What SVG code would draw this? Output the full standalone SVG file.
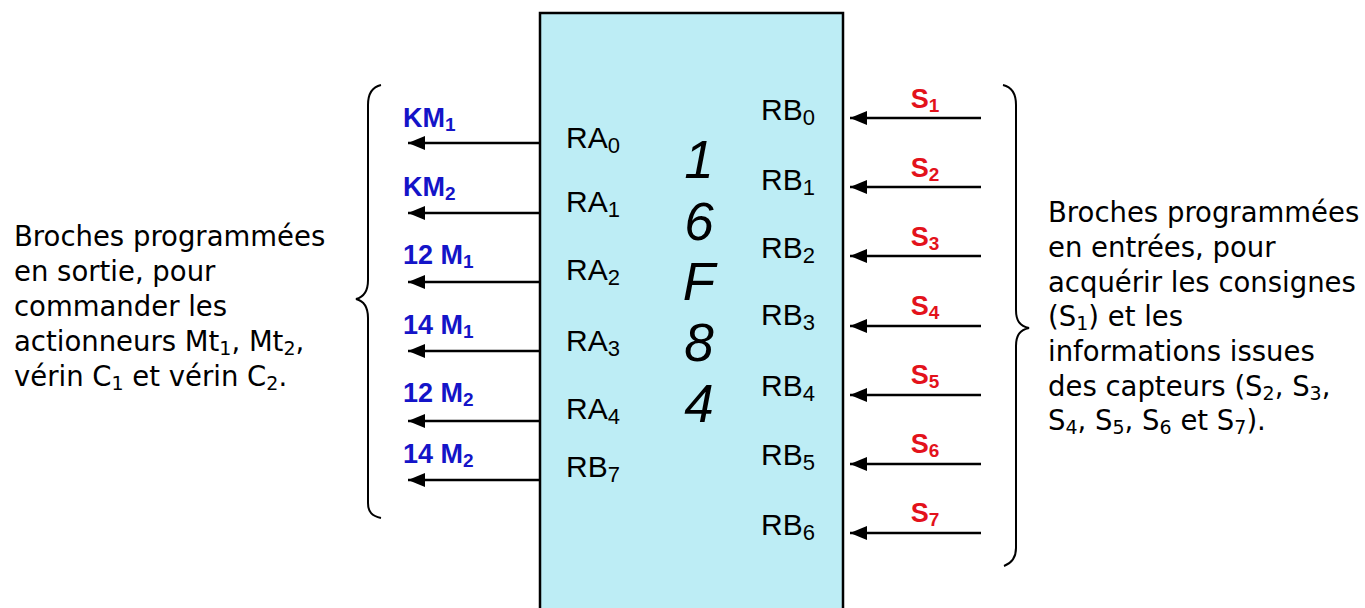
<svg xmlns="http://www.w3.org/2000/svg" width="1365" height="608" viewBox="0 0 1365 608">
<style>
.box{fill:#bdedf5;stroke:#000;stroke-width:2.5}
.pin{font-family:"Liberation Sans",Arial,sans-serif;font-size:30px;fill:#000}
.big{font-family:"Liberation Sans",Arial,sans-serif;font-size:53px;font-style:italic;fill:#000;text-anchor:middle}
.out{font-family:"Liberation Sans",Arial,sans-serif;font-weight:700;font-size:27px;fill:#1414c8}
.in{font-family:"Liberation Sans",Arial,sans-serif;font-weight:700;font-size:27px;fill:#e3121b;text-anchor:middle}
.desc{font-family:"DejaVu Sans",Verdana,sans-serif;font-size:27.5px;fill:#000}
.wire{stroke:#000;stroke-width:2.5;fill:none}
.brace{stroke:#000;stroke-width:2;fill:none}
</style>
<defs>
<marker id="ah" viewBox="0 0 17 14" refX="17" refY="7" markerWidth="17" markerHeight="14" markerUnits="userSpaceOnUse" orient="auto">
<path d="M0,0 L17,7 L0,14 z" fill="#000"/>
</marker>
</defs>
<rect width="1365" height="608" fill="#fff"/>

<g id="pic">
<rect class="box" x="540" y="13" width="303" height="620"/>
<text class="pin" x="566" y="148">RA<tspan font-size="22" dy="5">0</tspan></text>
<text class="pin" x="566" y="212">RA<tspan font-size="22" dy="5">1</tspan></text>
<text class="pin" x="566" y="280">RA<tspan font-size="22" dy="5">2</tspan></text>
<text class="pin" x="566" y="351">RA<tspan font-size="22" dy="5">3</tspan></text>
<text class="pin" x="566" y="419">RA<tspan font-size="22" dy="5">4</tspan></text>
<text class="pin" x="566" y="477">RB<tspan font-size="22" dy="5">7</tspan></text>
<text class="pin" x="761" y="120">RB<tspan font-size="22" dy="5">0</tspan></text>
<text class="pin" x="761" y="190">RB<tspan font-size="22" dy="5">1</tspan></text>
<text class="pin" x="761" y="258">RB<tspan font-size="22" dy="5">2</tspan></text>
<text class="pin" x="761" y="325">RB<tspan font-size="22" dy="5">3</tspan></text>
<text class="pin" x="761" y="396">RB<tspan font-size="22" dy="5">4</tspan></text>
<text class="pin" x="761" y="465">RB<tspan font-size="22" dy="5">5</tspan></text>
<text class="pin" x="761" y="535">RB<tspan font-size="22" dy="5">6</tspan></text>
<text class="big" x="699" y="178">1</text>
<text class="big" x="699" y="240">6</text>
<text class="big" x="699" y="300">F</text>
<text class="big" x="699" y="361">8</text>
<text class="big" x="699" y="422">4</text>
</g>

<g id="connectors">
<line class="wire" x1="540" y1="143" x2="408" y2="143" marker-end="url(#ah)"/>
<line class="wire" x1="540" y1="213" x2="408" y2="213" marker-end="url(#ah)"/>
<line class="wire" x1="540" y1="282" x2="408" y2="282" marker-end="url(#ah)"/>
<line class="wire" x1="540" y1="351" x2="408" y2="351" marker-end="url(#ah)"/>
<line class="wire" x1="540" y1="421" x2="408" y2="421" marker-end="url(#ah)"/>
<line class="wire" x1="540" y1="480" x2="408" y2="480" marker-end="url(#ah)"/>
<line class="wire" x1="981" y1="118" x2="850" y2="118" marker-end="url(#ah)"/>
<line class="wire" x1="981" y1="187" x2="850" y2="187" marker-end="url(#ah)"/>
<line class="wire" x1="981" y1="256" x2="850" y2="256" marker-end="url(#ah)"/>
<line class="wire" x1="981" y1="326" x2="850" y2="326" marker-end="url(#ah)"/>
<line class="wire" x1="981" y1="395" x2="850" y2="395" marker-end="url(#ah)"/>
<line class="wire" x1="981" y1="464" x2="850" y2="464" marker-end="url(#ah)"/>
<line class="wire" x1="981" y1="533" x2="850" y2="533" marker-end="url(#ah)"/>
</g>

<g id="outputs">
<text class="out" x="403" y="127">KM<tspan font-size="19" dy="4">1</tspan></text>
<text class="out" x="403" y="196">KM<tspan font-size="19" dy="4">2</tspan></text>
<text class="out" x="403" y="264">12 M<tspan font-size="19" dy="4">1</tspan></text>
<text class="out" x="403" y="334">14 M<tspan font-size="19" dy="4">1</tspan></text>
<text class="out" x="403" y="402">12 M<tspan font-size="19" dy="4">2</tspan></text>
<text class="out" x="403" y="463">14 M<tspan font-size="19" dy="4">2</tspan></text>
</g>

<g id="inputs">
<text class="in" x="925" y="108">S<tspan font-size="19" dy="4">1</tspan></text>
<text class="in" x="925" y="177">S<tspan font-size="19" dy="4">2</tspan></text>
<text class="in" x="925" y="246">S<tspan font-size="19" dy="4">3</tspan></text>
<text class="in" x="925" y="315">S<tspan font-size="19" dy="4">4</tspan></text>
<text class="in" x="925" y="384">S<tspan font-size="19" dy="4">5</tspan></text>
<text class="in" x="925" y="453">S<tspan font-size="19" dy="4">6</tspan></text>
<text class="in" x="925" y="522">S<tspan font-size="19" dy="4">7</tspan></text>
</g>

<g id="left-brace">
<path class="brace" d="M381,85 C372,87 368,93 368,105 L368,280 C368,291 364,297 356,299 C364,301 368,307 368,318 L368,503 C368,512 372,516 381,518"/>
</g>
<g id="right-brace">
<path class="brace" d="M1003,85 C1012,87 1016,93 1016,105 L1016,310 C1016,321 1020,326 1029,328 C1020,330 1016,335 1016,346 L1016,548 C1016,558 1012,563 1004,566"/>
</g>

<g id="left-text">
<text class="desc" x="14" y="246">Broches programmées</text>
<text class="desc" x="14" y="281">en sortie, pour</text>
<text class="desc" x="14" y="316">commander les</text>
<text class="desc" x="14" y="351">actionneurs Mt<tspan font-size="19" dy="4">1</tspan><tspan dy="-4">, Mt</tspan><tspan font-size="19" dy="4">2</tspan><tspan dy="-4">,</tspan></text>
<text class="desc" x="14" y="386">vérin C<tspan font-size="19" dy="4">1</tspan><tspan dy="-4"> et vérin C</tspan><tspan font-size="19" dy="4">2</tspan><tspan dy="-4">.</tspan></text>
</g>

<g id="right-text">
<text class="desc" x="1048" y="222">Broches programmées</text>
<text class="desc" x="1048" y="257">en entrées, pour</text>
<text class="desc" x="1048" y="292">acquérir les consignes</text>
<text class="desc" x="1048" y="326">(S<tspan font-size="19" dy="4">1</tspan><tspan dy="-4">) et les</tspan></text>
<text class="desc" x="1048" y="361">informations issues</text>
<text class="desc" x="1048" y="396">des capteurs (S<tspan font-size="19" dy="4">2</tspan><tspan dy="-4">, S</tspan><tspan font-size="19" dy="4">3</tspan><tspan dy="-4">,</tspan></text>
<text class="desc" x="1048" y="430">S<tspan font-size="19" dy="4">4</tspan><tspan dy="-4">, S</tspan><tspan font-size="19" dy="4">5</tspan><tspan dy="-4">, S</tspan><tspan font-size="19" dy="4">6</tspan><tspan dy="-4"> et S</tspan><tspan font-size="19" dy="4">7</tspan><tspan dy="-4">).</tspan></text>
</g>
</svg>
